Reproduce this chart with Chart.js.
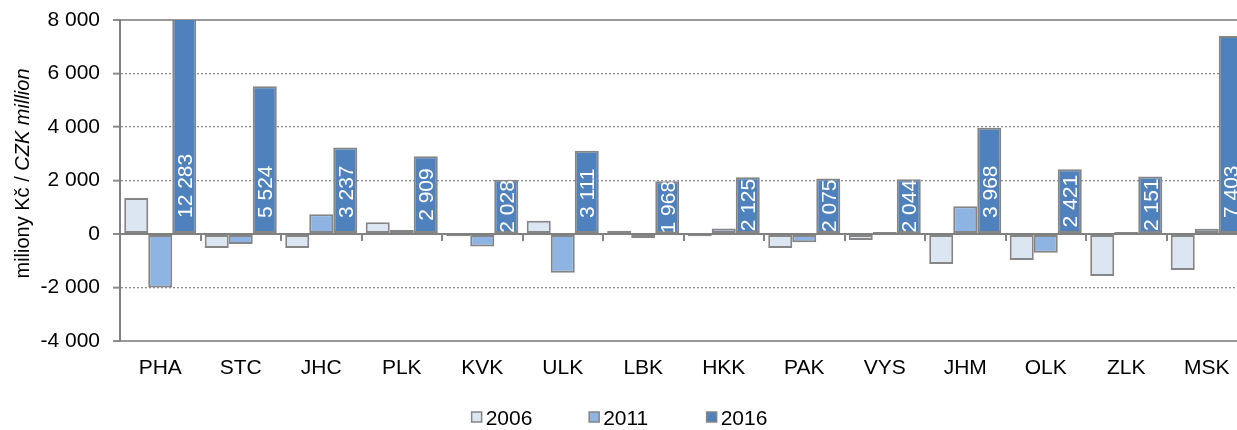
<!DOCTYPE html>
<html>
<head>
<meta charset="utf-8">
<script src="https://cdn.jsdelivr.net/npm/chart.js@4/dist/chart.umd.min.js"></script>
<style>
  html, body { margin: 0; padding: 0; overflow: hidden; background: #fff; }
  canvas { display: block; }
</style>
</head>
<body>
<canvas id="c" width="1250" height="430"></canvas>
<script>
const categories = ['PHA','STC','JHC','PLK','KVK','ULK','LBK','HKK','PAK','VYS','JHM','OLK','ZLK','MSK'];
const seriesNames = ['2006','2011','2016'];
const values2006 = [1350, -520, -520, 440, -80, 500, 125, -80, -520, -220, -1120, -970, -1570, -1350];
const values2011 = [-2000, -370, 740, 150, -470, -1450, -150, 210, -310, 75, 1040, -700, 75, 200];
const values2016 = [12283, 5524, 3237, 2909, 2028, 3111, 1968, 2125, 2075, 2044, 3968, 2421, 2151, 7403];
const yTicks = [-4000, -2000, 0, 2000, 4000, 6000, 8000];

const FONT = '"Liberation Sans", Arial, sans-serif';
const colors = ['#DCE6F2', '#8EB4E3', '#4F81BD'];
const edge = '#858585';

function fmt(v) {
  const s = Math.abs(v).toString().replace(/\B(?=(\d{3})+(?!\d))/g, ' ');
  return (v < 0 ? '-' : '') + s;
}

const labelPlugin = {
  id: 'barLabels',
  afterDatasetsDraw(chart) {
    const ctx = chart.ctx;
    const area = chart.chartArea;
    const meta = chart.getDatasetMeta(2);
    const ds = chart.data.datasets[2];
    const fs = 21;
    ctx.save();
    ctx.font = fs + 'px ' + FONT;
    ctx.fillStyle = '#ffffff';
    meta.data.forEach((bar, i) => {
      const p = bar.getProps(['x', 'y', 'base', 'width'], true);
      const txt = fmt(ds.data[i]);
      const w = ctx.measureText(txt).width;
      const top = Math.max(p.y, area.top);
      const base = p.base;
      const center = (top + base) / 2;
      const bottom = Math.max(base - 15, center + w / 2);
      const mid = bottom - w / 2;
      ctx.save();
      ctx.beginPath();
      ctx.rect(p.x - p.width / 2 + 2, top + 1, p.width - 4, base - top - 2);
      ctx.clip();
      ctx.translate(p.x, mid);
      ctx.rotate(-Math.PI / 2);
      ctx.textAlign = 'center';
      ctx.textBaseline = 'alphabetic';
      ctx.fillText(txt, 0, fs * 0.36);
      ctx.restore();
    });
    ctx.restore();
  }
};

const axisExtras = {
  id: 'axisExtras',
  afterDatasetsDraw(chart) {
    const ctx = chart.ctx;
    const x = chart.scales.x, y = chart.scales.y;
    const y0 = y.getPixelForValue(0);
    ctx.save();
    ctx.strokeStyle = edge;
    ctx.lineWidth = 2;
    ctx.beginPath();
    for (let i = 1; i < categories.length; i++) {
      const xb = Math.round((x.getPixelForValue(i - 1) + x.getPixelForValue(i)) / 2);
      ctx.moveTo(xb, y0);
      ctx.lineTo(xb, y0 + 7);
    }
    ctx.stroke();
    ctx.restore();
  },
  afterDraw(chart) {
    const ctx = chart.ctx;
    const p1 = 'miliony Kč / ';
    const p2 = 'CZK million';
    ctx.save();
    ctx.fillStyle = '#000';
    ctx.font = '20px ' + FONT;
    const w1 = ctx.measureText(p1).width;
    ctx.font = 'italic 20px ' + FONT;
    const w2 = ctx.measureText(p2).width;
    const cy = (chart.chartArea.top + chart.chartArea.bottom) / 2 - 7;
    ctx.translate(29, cy);
    ctx.rotate(-Math.PI / 2);
    ctx.textBaseline = 'alphabetic';
    ctx.textAlign = 'left';
    const start = -(w1 + w2) / 2;
    ctx.font = '20px ' + FONT;
    ctx.fillText(p1, start, 0);
    ctx.font = 'italic 20px ' + FONT;
    ctx.fillText(p2, start + w1, 0);
    ctx.restore();

    ctx.save();
    ctx.font = '21px ' + FONT;
    const step = 117.5;
    const itemW = 10 + 5 + ctx.measureText('2006').width;
    const total = step * (seriesNames.length - 1) + itemW;
    let lx = 620 - total / 2;
    const ly = 417;
    seriesNames.forEach((name, i) => {
      ctx.fillStyle = colors[i];
      ctx.fillRect(lx, ly - 5, 10, 10);
      ctx.strokeStyle = edge;
      ctx.lineWidth = 1.5;
      ctx.strokeRect(lx, ly - 5, 10, 10);
      ctx.fillStyle = '#000';
      ctx.textBaseline = 'middle';
      ctx.textAlign = 'left';
      ctx.fillText(name, lx + 14, ly + 2);
      lx += step;
    });
    ctx.restore();
  }
};

const datasets = [values2006, values2011, values2016].map((vals, i) => ({
  label: seriesNames[i],
  data: vals,
  backgroundColor: colors[i],
  borderColor: edge,
  borderWidth: 2,
  borderSkipped: false,
  categoryPercentage: 0.895,
  barPercentage: 1.0,
  clip: 0
}));

new Chart(document.getElementById('c'), {
  type: 'bar',
  data: { labels: categories, datasets },
  options: {
    responsive: false,
    animation: false,
    devicePixelRatio: 1,
    layout: { padding: { top: 20, right: 3, left: 0, bottom: 0 } },
    plugins: { legend: { display: false }, tooltip: { enabled: false } },
    scales: {
      x: {
        grid: { display: false, drawTicks: false },
        border: { display: false },
        ticks: { color: '#000', font: { family: FONT, size: 21 }, padding: 15, maxRotation: 0, autoSkip: false },
        afterFit(s) { s.height = 89; s.paddingLeft = 0; s.paddingRight = 0; }
      },
      y: {
        min: -4000, max: 8000,
        afterBuildTicks(s) { s.ticks = yTicks.map(v => ({ value: v })); },
        ticks: {
          color: '#000',
          font: { family: FONT, size: 21 },
          padding: 13,
          callback: (v) => fmt(v)
        },
        grid: {
          color: (c) => (c.tick && c.tick.value === 0) ? '#808080' : ((c.tick && (c.tick.value === 8000 || c.tick.value === -4000)) ? '#9a9a9a' : '#8c8c8c'),
          lineWidth: (c) => (c.tick && (c.tick.value === 0 || c.tick.value === 8000 || c.tick.value === -4000)) ? 2 : 1.3,
          drawTicks: true,
          tickLength: 7,
          tickColor: '#8c8c8c',
          tickWidth: 2
        },
        border: {
          display: true,
          color: '#808080',
          width: 2,
          dash: (c) => (c.tick && c.tick.value !== 0 && c.tick.value !== 8000 && c.tick.value !== -4000) ? [2, 2] : []
        },
        afterFit(s) { s.width = 120; s.paddingTop = 0; s.paddingBottom = 0; }
      }
    }
  },
  plugins: [labelPlugin, axisExtras]
});
</script>
</body>
</html>
